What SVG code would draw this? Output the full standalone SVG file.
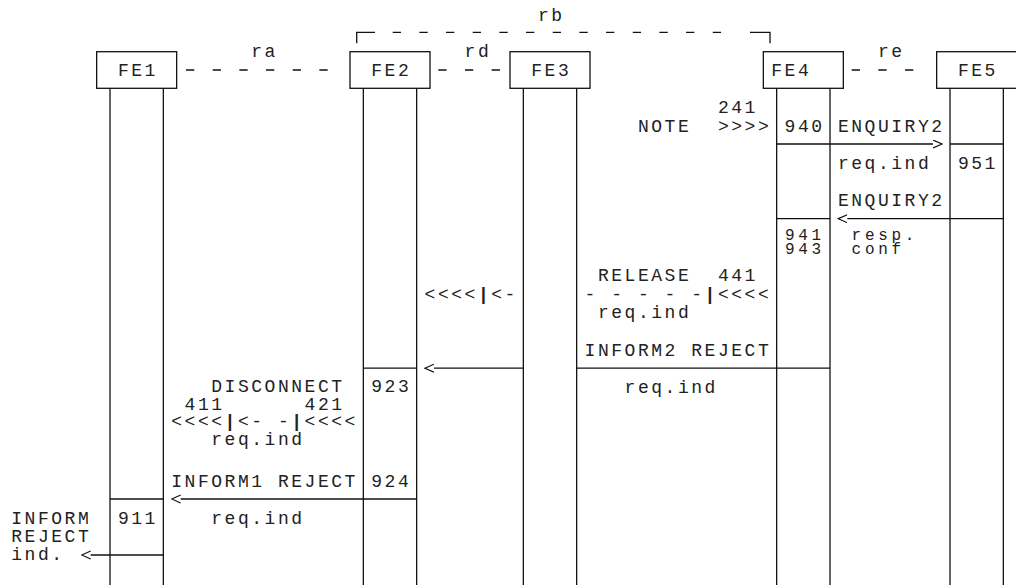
<svg xmlns="http://www.w3.org/2000/svg" width="1016" height="585" viewBox="0 0 1016 585">
<style>
  .t { font-family: "Liberation Mono", "Courier New", monospace; font-size: 18px; letter-spacing: 2.53px; fill: #222; }
  .s { font-size: 16px; letter-spacing: 3.73px; }
  .b { font-weight: bold; }
  .box { fill: none; stroke: #111; stroke-width: 1.3; }
  .ln { fill: none; stroke: #111; stroke-width: 1.3; }
  .dash { fill: none; stroke: #111; stroke-width: 1.3; stroke-dasharray: 8.3 18.37; }
  .arr { fill: none; stroke: #111; stroke-width: 1.3; marker-end: url(#chev); }
</style>
<defs>
  <marker id="chev" viewBox="0 0 10 10" refX="0" refY="4.5" markerWidth="10" markerHeight="10" markerUnits="userSpaceOnUse" orient="auto">
    <path d="M0,0.5 L9,4.5 L0,8.5" fill="none" stroke="#111" stroke-width="1.2"/>
  </marker>
</defs>
<rect width="1016" height="585" fill="#fff"/>

<g id="FE1">
  <rect class="box" x="96.67" y="51.7" width="80" height="36.6"/>
  <text class="t" x="117.9" y="76">FE1</text>
  <line class="ln" x1="110" y1="88.3" x2="110" y2="585"/>
  <line class="ln" x1="163.33" y1="88.3" x2="163.33" y2="585"/>
</g>
<g id="FE2">
  <rect class="box" x="350" y="51.7" width="80" height="36.6"/>
  <text class="t" x="371.25" y="76">FE2</text>
  <line class="ln" x1="363.33" y1="88.3" x2="363.33" y2="585"/>
  <line class="ln" x1="416.67" y1="88.3" x2="416.67" y2="585"/>
</g>
<g id="FE3">
  <rect class="box" x="510" y="51.7" width="80" height="36.6"/>
  <text class="t" x="531.25" y="76">FE3</text>
  <line class="ln" x1="523.33" y1="88.3" x2="523.33" y2="585"/>
  <line class="ln" x1="576.67" y1="88.3" x2="576.67" y2="585"/>
</g>
<g id="FE4">
  <rect class="box" x="763.33" y="51.7" width="80" height="36.6"/>
  <text class="t" x="771.25" y="76">FE4</text>
  <line class="ln" x1="776.67" y1="88.3" x2="776.67" y2="585"/>
  <line class="ln" x1="830" y1="88.3" x2="830" y2="585"/>
</g>
<g id="FE5">
  <rect class="box" x="936.67" y="51.7" width="80" height="36.6"/>
  <text class="t" x="957.9" y="76">FE5</text>
  <line class="ln" x1="950" y1="88.3" x2="950" y2="585"/>
  <line class="ln" x1="1003.33" y1="88.3" x2="1003.33" y2="585"/>
</g>

<g id="connectors">
  <line class="dash" x1="186" y1="70" x2="328" y2="70"/>
  <line class="dash" x1="438.3" y1="70" x2="500" y2="70"/>
  <line class="dash" x1="851.7" y1="70" x2="914" y2="70"/>
  <polyline class="ln" points="356.7,43.3 356.7,32.3 375,32.3"/>
  <line class="dash" x1="392.7" y1="32.3" x2="722" y2="32.3"/>
  <polyline class="ln" points="750,32.3 770,32.3 770,43.3"/>

  <line class="ln" x1="950" y1="144" x2="1003.33" y2="144"/>
  <line class="ln" x1="776.67" y1="218.7" x2="830" y2="218.7"/>
  <line class="ln" x1="363.33" y1="368.2" x2="416.67" y2="368.2"/>
  <line class="ln" x1="576.67" y1="368.2" x2="830" y2="368.2"/>
  <line class="ln" x1="110" y1="499" x2="163.33" y2="499"/>

  <line class="arr" x1="776.67" y1="144" x2="933" y2="144"/>
  <line class="arr" x1="1003.33" y1="218.7" x2="847.3" y2="218.7"/>
  <line class="arr" x1="523.33" y1="368.2" x2="434" y2="368.2"/>
  <line class="arr" x1="416.67" y1="499" x2="180.7" y2="499"/>
  <line class="arr" x1="163.33" y1="555" x2="90.7" y2="555"/>
</g>

<g id="labels">
  <text class="t" x="537.9" y="20.5">rb</text>
  <text class="t" x="251.25" y="57">ra</text>
  <text class="t" x="464.6" y="57">rd</text>
  <text class="t" x="877.9" y="57">re</text>

  <text class="t" x="717.9" y="113">241</text>
  <text class="t" x="637.9" y="131.7">NOTE</text>
  <text class="t" x="717.9" y="131.7">&gt;&gt;&gt;&gt;</text>
  <text class="t" x="784.6" y="131.7">940</text>
  <text class="t" x="837.9" y="131.7">ENQUIRY2</text>
  <text class="t" x="837.9" y="169">req.ind</text>
  <text class="t" x="957.9" y="169">951</text>
  <text class="t" x="837.9" y="206.4">ENQUIRY2</text>
  <text class="t s" x="784.9" y="239.5">941</text>
  <text class="t s" x="784.9" y="254">943</text>
  <text class="t s" x="851.56" y="239.5">resp.</text>
  <text class="t s" x="851.56" y="254">conf</text>

  <text class="t" x="597.9" y="281">RELEASE</text>
  <text class="t" x="717.9" y="281">441</text>
  <text class="t" x="424.6" y="299.5">&lt;&lt;&lt;&lt;<tspan class="b">|</tspan>&lt;-</text>
  <text class="t" x="584.6" y="299.5">- - - - -<tspan class="b">|</tspan>&lt;&lt;&lt;&lt;</text>
  <text class="t" x="597.9" y="318">req.ind</text>
  <text class="t" x="584.6" y="355.9">INFORM2 REJECT</text>
  <text class="t" x="624.6" y="392.5">req.ind</text>

  <text class="t" x="211.25" y="392">DISCONNECT</text>
  <text class="t" x="371.25" y="392">923</text>
  <text class="t" x="184.6" y="409.5">411</text>
  <text class="t" x="304.6" y="409.5">421</text>
  <text class="t" x="171.25" y="426.5">&lt;&lt;&lt;&lt;<tspan class="b">|</tspan>&lt;- -<tspan class="b">|</tspan>&lt;&lt;&lt;&lt;</text>
  <text class="t" x="211.25" y="444.5">req.ind</text>
  <text class="t" x="171.25" y="486.6">INFORM1 REJECT</text>
  <text class="t" x="371.25" y="486.6">924</text>
  <text class="t" x="117.9" y="524">911</text>
  <text class="t" x="211.25" y="524">req.ind</text>
  <text class="t" x="11.25" y="523.5">INFORM</text>
  <text class="t" x="11.25" y="541.5">REJECT</text>
  <text class="t" x="11.25" y="559.5">ind.</text>
</g>
</svg>
